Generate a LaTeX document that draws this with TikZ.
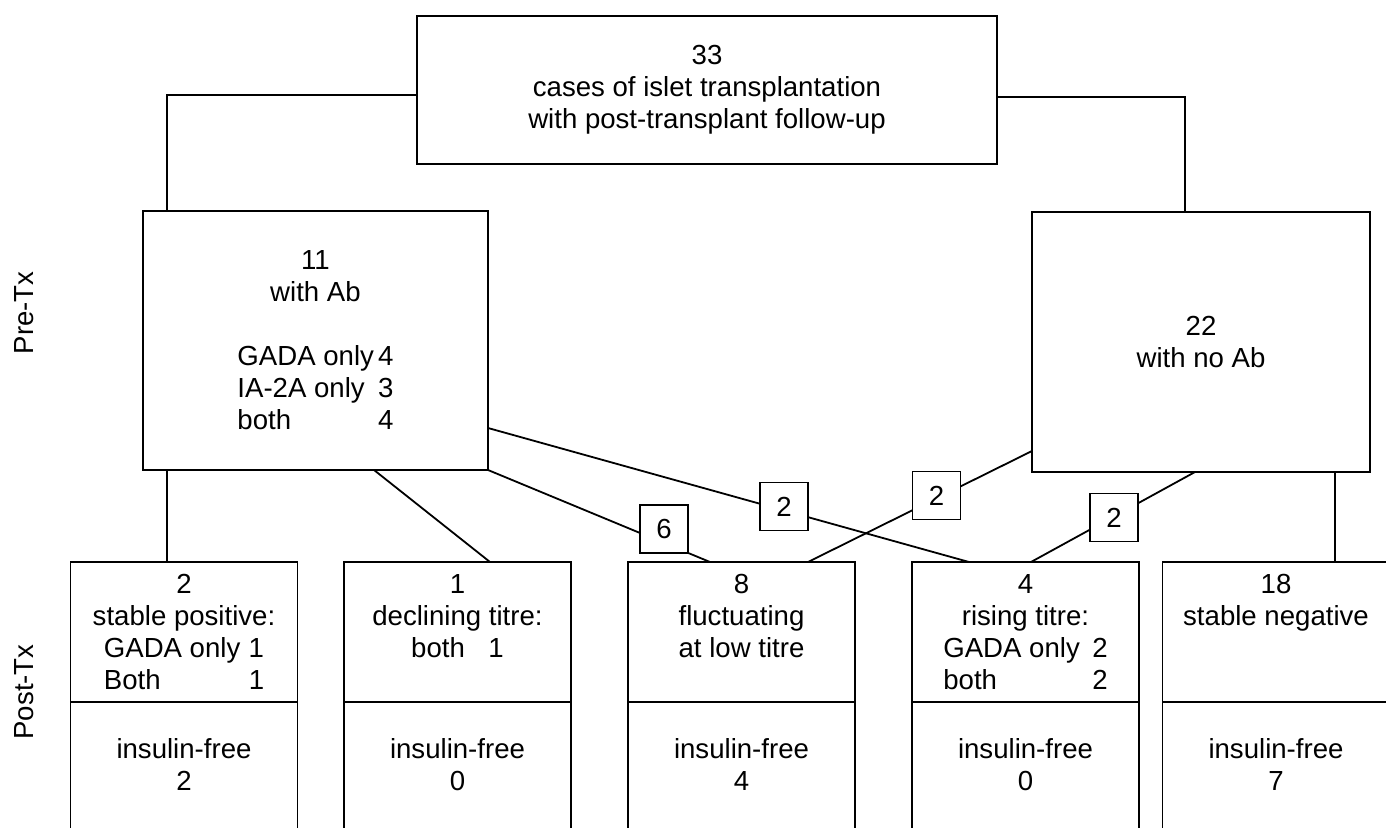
\documentclass[tikz,border=0pt]{standalone}
\usepackage{fontspec}
\setmainfont{Liberation Sans}
\usetikzlibrary{positioning}
\newcommand{\abrow}[3]{\makebox[#1][l]{#2}#3}

\begin{document}
\begin{tikzpicture}[x=0.5pt, y=-0.5pt, line width=0.9pt,
    font=\fontsize{13.8}{16}\selectfont,
    box/.style={draw, align=center, inner sep=0pt, outer sep=0pt},
    post/.style={box, minimum width=113.5pt, minimum height=70pt},
    free/.style={box, minimum width=113.5pt, minimum height=94pt},
    cnt/.style={draw, fill=white, minimum size=24pt, inner sep=0pt}]
    \path[use as bounding box, clip] (0, 0) rectangle (1386, 828);

    \node[box, minimum width=290pt, minimum height=74pt] (all) at (707, 90)
        {33\\cases of islet transplantation\\with post-transplant follow-up};
    \node[box, minimum width=172.5pt, minimum height=129.5pt] (ab) at (315.5, 340.5)
        {11\\with Ab\\[16pt]\abrow{5.1em}{GADA only}{4}\\\abrow{5.1em}{IA-2A only}{3}\\\abrow{5.1em}{both}{4}};
    \node[box, minimum width=169pt, minimum height=130pt] (noab) at (1201, 342) {22\\with no Ab};

    \node[rotate=90] (pre) at (24, 313) {Pre-Tx};
    \node[rotate=90] (post) at (24, 692) {Post-Tx};

    % post-transplant columns
    \node[post, anchor=north] (s1) at (184, 562)
        {2\\stable positive:\\\abrow{5.25em}{GADA only}{1}\\\abrow{5.25em}{Both}{1}};
    \node[free, below=0pt of s1] (f1) {insulin-free\\2\\\mbox{}\\\mbox{}};
    \node[post, anchor=north] (s2) at (457.5, 562)
        {1\\declining titre:\\\abrow{2.8em}{both}{1}\\\mbox{}};
    \node[free, below=0pt of s2] (f2) {insulin-free\\0\\\mbox{}\\\mbox{}};
    \node[post, anchor=north] (s3) at (741.5, 562) {8\\fluctuating\\at low titre\\\mbox{}};
    \node[free, below=0pt of s3] (f3) {insulin-free\\4\\\mbox{}\\\mbox{}};
    \node[post, anchor=north] (s4) at (1025.5, 562)
        {4\\rising titre:\\\abrow{5.4em}{GADA only}{2}\\\abrow{5.4em}{both}{2}};
    \node[free, below=0pt of s4] (f4) {insulin-free\\0\\\mbox{}\\\mbox{}};
    \node[post, anchor=north] (s5) at (1276, 562) {18\\stable negative\\\mbox{}\\\mbox{}};
    \node[free, below=0pt of s5] (f5) {insulin-free\\7\\\mbox{}\\\mbox{}};

    \draw ([yshift=-2.5pt]all.west) -| ([xshift=12pt]ab.north west);
    \draw ([yshift=-3.5pt]all.east) -| ([xshift=76.5pt]noab.north west);

    \draw ([xshift=12pt]ab.south west) -- ([xshift=12pt]ab.south west |- s1.north);
    \draw ([xshift=115.5pt]ab.south west) -- ([xshift=73pt]s2.north west);
    \draw (ab.south east) -- ([xshift=41pt]s3.north west);
    \draw ([yshift=21pt]ab.south east) -- ([xshift=28.5pt]s4.north west);
    \draw ([yshift=10.5pt]noab.south west) -- ([xshift=-23.5pt]s3.north east);
    \draw ([xshift=81.5pt]noab.south west) -- ([xshift=59.5pt]s4.north west);
    \draw ([xshift=-17.5pt]noab.south east) -- ([xshift=-17.5pt]noab.south east |- s5.north);

    \node[cnt] (c6) at (664, 529) {6};
    \node[cnt] (c2a) at (784, 506.5) {2};
    \node[cnt] (c2b) at (936.5, 495.5) {2};
    \node[cnt] (c2c) at (1114, 517.5) {2};
\end{tikzpicture}
\end{document}
